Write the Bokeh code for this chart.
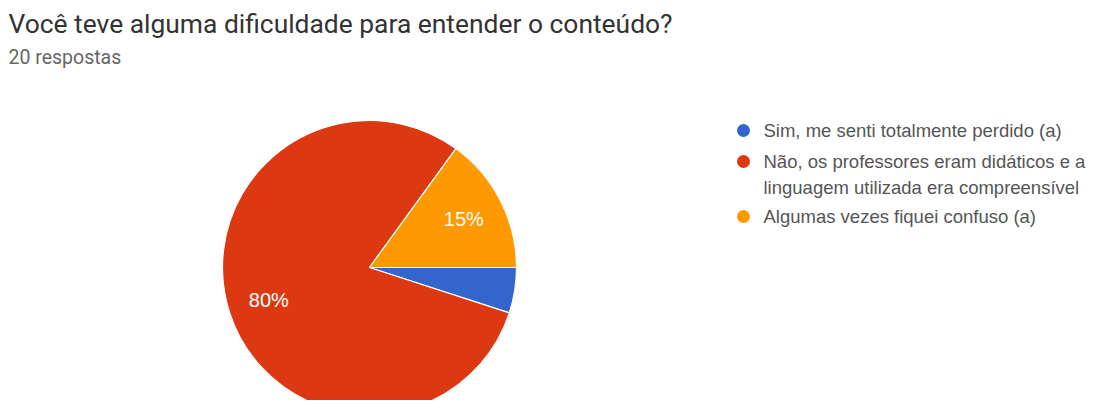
import math
from bokeh.plotting import figure
from bokeh.models import Range1d, Label, ColumnDataSource
from bokeh.embed import file_html
from bokeh.resources import INLINE
from bokeh.core.properties import value

title_text = "Você teve alguma dificuldade para entender o conteúdo?"
subtitle_text = "20 respostas"
categories = [
    "Sim, me senti totalmente perdido (a)",
    "Não, os professores eram didáticos e a\nlinguagem utilizada era compreensível",
    "Algumas vezes fiquei confuso (a)",
]
counts = [1, 16, 3]
colors = ["#3366cc", "#dc3912", "#ff9900"]

W, H = 1099, 400
p = figure(width=W, height=H, output_backend="svg", toolbar_location=None,
           x_range=Range1d(0, W), y_range=Range1d(0, H),
           min_border=0, min_border_left=0, min_border_right=0,
           min_border_top=0, min_border_bottom=0)
p.axis.visible = False
p.grid.visible = False
p.outline_line_color = None
p.background_fill_color = "white"
p.border_fill_color = "white"

def sx(x):
    return x

def sy(y):
    return H - y

# pie geometry
cx, cy, r = sx(369), sy(267), 147
total = sum(counts)
starts, ends, mids, labels = [], [], [], []
acc = 0.0
for c in counts:
    frac = c / total
    end = -acc * 2 * math.pi
    start = -(acc + frac) * 2 * math.pi
    starts.append(start)
    ends.append(end)
    mids.append((start + end) / 2)
    labels.append(f"{round(frac * 100)}%" if frac >= 0.1 else "")
    acc += frac

src = ColumnDataSource(dict(start=starts, end=ends, color=colors))
p.wedge(x=cx, y=cy, radius=r, start_angle="start", end_angle="end",
        fill_color="color", line_color="white", line_width=1.2, source=src)

lr = 0.72 * r
lx = [cx + lr * math.cos(m) for m in mids]
ly = [cy + lr * math.sin(m) for m in mids]
p.text(x=lx, y=ly, text=labels, text_color="white", text_font=value("Liberation Sans"),
       text_font_size="20px", text_align="center", text_baseline="middle")

# title & subtitle
p.add_layout(Label(x=sx(8), y=sy(23), text=title_text, text_font="Roboto",
                   text_font_size="26.4px", text_color="#333333", text_baseline="middle"))
p.add_layout(Label(x=sx(8), y=sy(57), text=subtitle_text, text_font="Roboto",
                   text_font_size="19.5px", text_color="#666666", text_baseline="middle"))

# legend
leg_y = [sy(130), sy(161), sy(216)]
p.scatter(x=[sx(743)] * 3, y=leg_y, size=13, fill_color=colors, line_color=None)
for i, cat in enumerate(categories):
    p.add_layout(Label(x=sx(763), y=leg_y[i] + 11, text=cat, text_font="Liberation Sans",
                       text_font_size="18.5px", text_color="#555555",
                       text_baseline="top", text_line_height=1.25))

open("out.html", "w").write(file_html(p, INLINE))
